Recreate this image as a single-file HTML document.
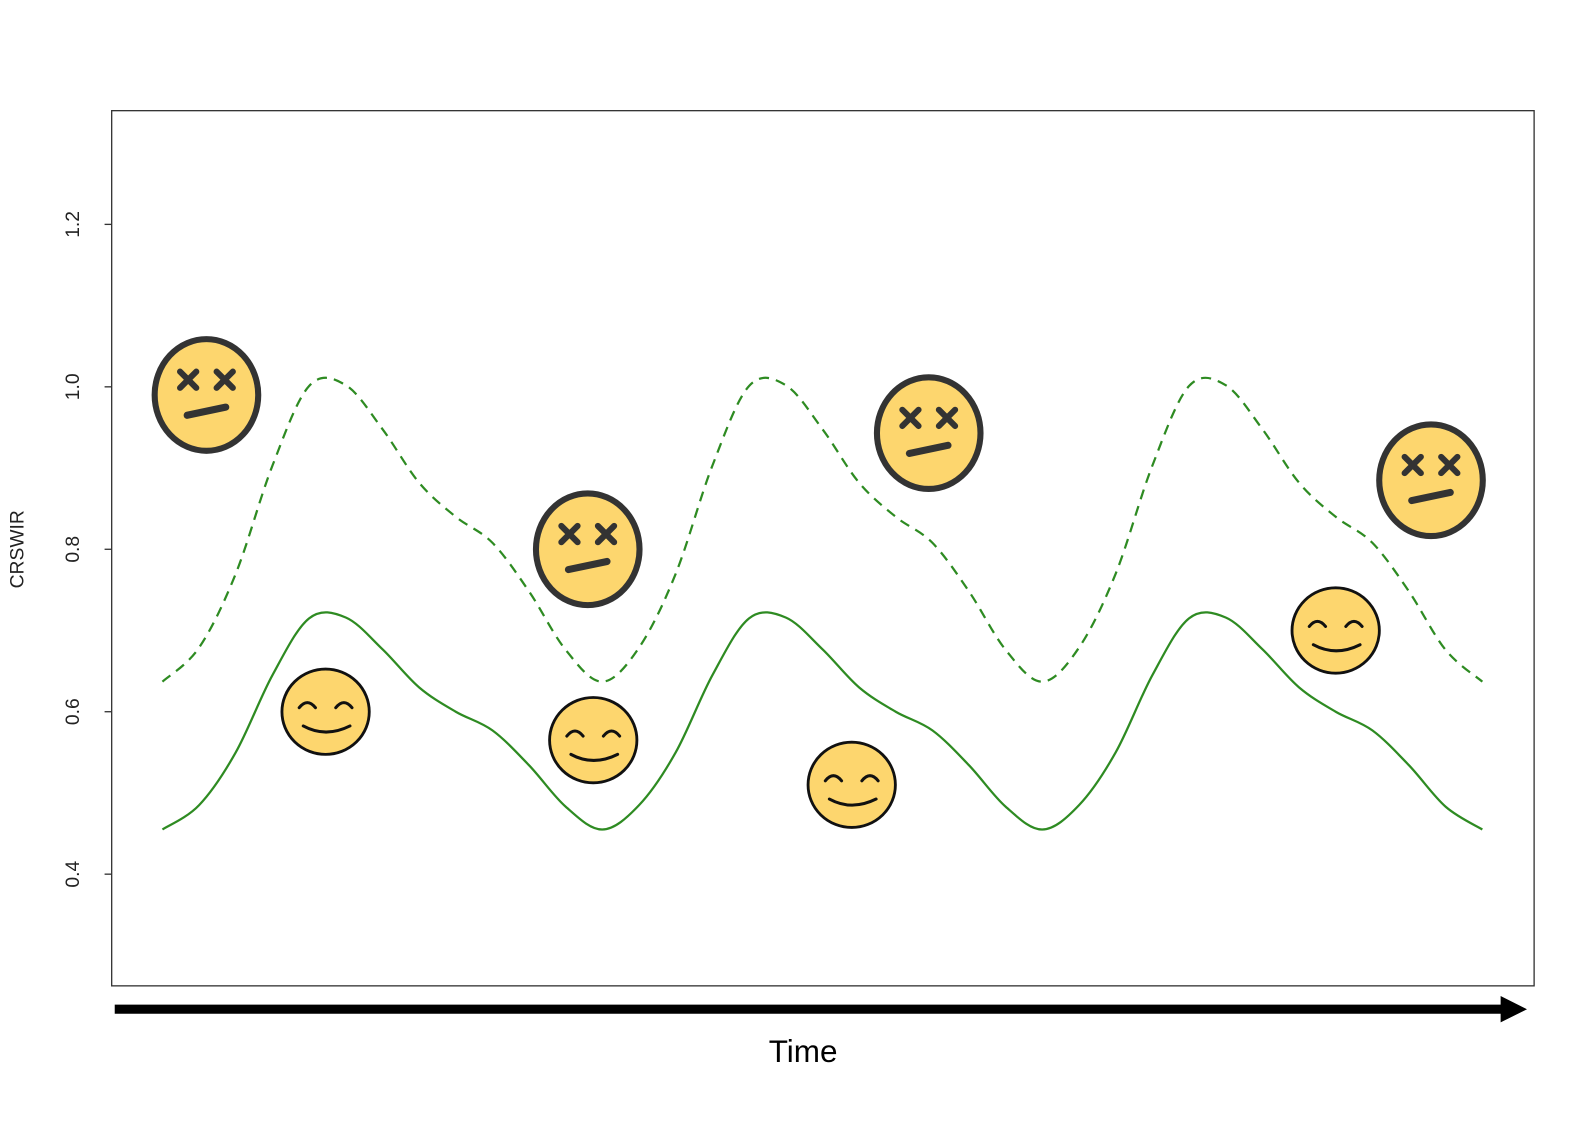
<!DOCTYPE html>
<html><head><meta charset="utf-8"><style>
html,body{margin:0;padding:0;background:#fff;}
svg{display:block;font-family:"Liberation Sans",sans-serif;}
</style></head><body>
<svg id="chart" width="1591" height="1125" viewBox="0 0 1591 1125">
<g transform="scale(1.0153)">
<rect x="110" y="109" width="1401" height="862" fill="none" stroke="#333" stroke-width="1.3"/>
<g id="yaxis"></g>
<text transform="translate(23,541) rotate(-90)" text-anchor="middle" font-size="19" fill="#222">CRSWIR</text>
<g id="lines"></g>
<g id="faces"></g>
<line x1="113" y1="994" x2="1482" y2="994" stroke="#000" stroke-width="9"/>
<polygon points="1478,981 1504,994 1478,1007" fill="#000"/>
<text x="791" y="1046" text-anchor="middle" font-size="31" fill="#000">Time</text>
</g>
</svg>
<script>
const yTicks=[0.4,0.6,0.8,1.0,1.2];
const yTickLabels=["0.4","0.6","0.8","1.0","1.2"];
const times=[0,1,2,3,4,5,6,7,8,9,10,11,12,13,14,15,16,17,18,19,20,21,22,23,24,25,26,27,28,29,30,31,32,33,34,35,36];
const lowerSeries=[0.455,0.485,0.55,0.645,0.715,0.716,0.677,0.63,0.6,0.577,0.534,0.483,0.455,0.485,0.55,0.645,0.715,0.716,0.677,0.63,0.6,0.577,0.534,0.483,0.455,0.485,0.55,0.645,0.715,0.716,0.677,0.63,0.6,0.577,0.534,0.483,0.455];
const upperSeries=[0.637,0.679,0.77,0.903,1.001,1.002,0.948,0.882,0.84,0.808,0.748,0.676,0.637,0.679,0.77,0.903,1.001,1.002,0.948,0.882,0.84,0.808,0.748,0.676,0.637,0.679,0.77,0.903,1.001,1.002,0.948,0.882,0.84,0.808,0.748,0.676,0.637];
const deadFaces=[[1.2,0.99],[11.6,0.80],[20.9,0.943],[34.6,0.885]];
const happyFaces=[[4.45,0.60],[11.75,0.565],[18.8,0.51],[32.0,0.70]];
const NS="http://www.w3.org/2000/svg";
const xS=t=>160+t*(1300/36);
const yS=v=>381-(v-1)*800;
function mk(tag,attrs,parent){const e=document.createElementNS(NS,tag);for(const k in attrs)e.setAttribute(k,attrs[k]);parent.appendChild(e);return e;}
const ya=document.getElementById('yaxis');
yTicks.forEach((v,i)=>{
 const l=mk('line',{x1:103,x2:110,y1:yS(v),y2:yS(v),stroke:'#333','stroke-width':1.3},ya);
 
 
 const t=mk('text',{transform:`translate(78,${yS(v)}) rotate(-90)`,'text-anchor':'middle','font-size':19,fill:'#222'},ya);
 t.textContent=yTickLabels[i];
 
 
});
function pathFor(vals){
 const p=vals.map((v,i)=>[xS(times[i]),yS(v)]);
 let d=`M${p[0][0]},${p[0][1]}`;
 for(let i=0;i<p.length-1;i++){
  const p0=p[Math.max(0,i-1)],p1=p[i],p2=p[i+1],p3=p[Math.min(p.length-1,i+2)];
  const c1=[p1[0]+(p2[0]-p0[0])/6,p1[1]+(p2[1]-p0[1])/6];
  const c2=[p2[0]-(p3[0]-p1[0])/6,p2[1]-(p3[1]-p1[1])/6];
  d+=` C${c1[0]},${c1[1]} ${c2[0]},${c2[1]} ${p2[0]},${p2[1]}`;
 }
 return d;
}
const lg=document.getElementById('lines');
const lo=mk('path',{d:pathFor(lowerSeries),fill:'none',stroke:'#2e8b22','stroke-width':2.2},lg);


const up=mk('path',{d:pathFor(upperSeries),fill:'none',stroke:'#2e8b22','stroke-width':2.2,'stroke-dasharray':'10,7'},lg);


const fg=document.getElementById('faces');
deadFaces.forEach(f=>{
 const cx=xS(f[0]),cy=yS(f[1]);
 const g=mk('g',{transform:`translate(${cx},${cy})`},fg);
 
 
 mk('ellipse',{rx:51,ry:55,fill:'#fdd66e',stroke:'#333','stroke-width':6},g);
 [[-18,-15],[18,-15]].forEach(e=>{
  mk('path',{d:`M${e[0]-8},${e[1]-8}L${e[0]+8},${e[1]+8}M${e[0]+8},${e[1]-8}L${e[0]-8},${e[1]+8}`,stroke:'#333','stroke-width':6,'stroke-linecap':'round'},g);
 });
 mk('line',{x1:-19,y1:20,x2:19,y2:12,stroke:'#333','stroke-width':7,'stroke-linecap':'round'},g);
});
happyFaces.forEach(f=>{
 const cx=xS(f[0]),cy=yS(f[1]);
 const g=mk('g',{transform:`translate(${cx},${cy})`},fg);
 
 
 mk('ellipse',{rx:43,ry:42,fill:'#fdd66e',stroke:'#111','stroke-width':2.8},g);
 mk('path',{d:'M-26,-4 Q-18,-14 -10,-4 M10,-4 Q18,-14 26,-4',fill:'none',stroke:'#111','stroke-width':3,'stroke-linecap':'round'},g);
 mk('path',{d:'M-22,14 Q0,26 24,14',fill:'none',stroke:'#111','stroke-width':3,'stroke-linecap':'round'},g);
});
</script>
</body></html>
